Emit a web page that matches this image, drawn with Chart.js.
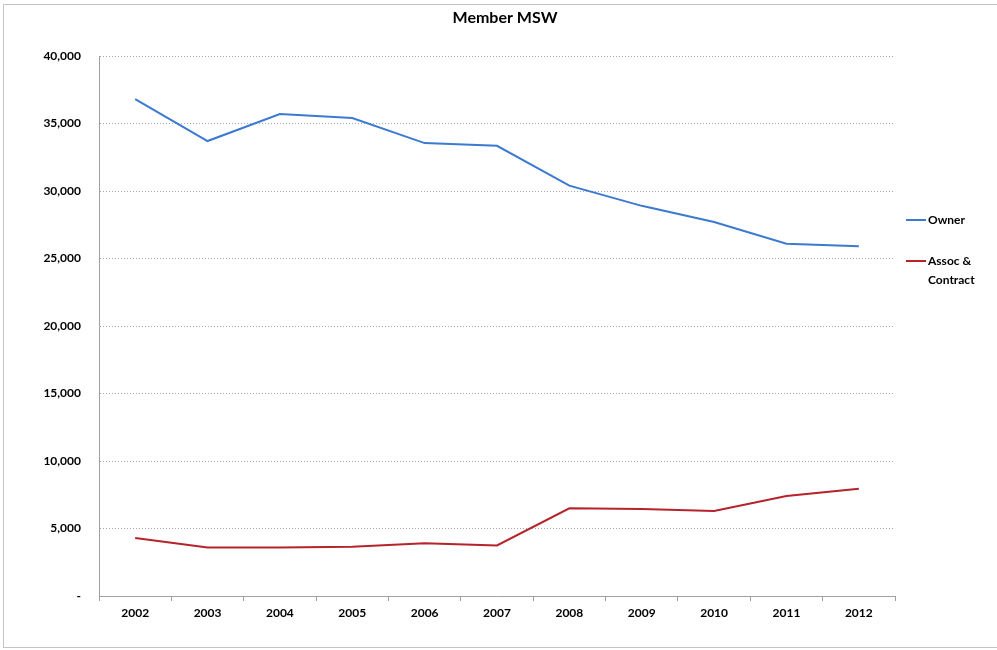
<!DOCTYPE html>
<html>
<head>
<meta charset="utf-8">
<title>Member MSW</title>
<script src="https://cdn.jsdelivr.net/npm/chart.js@4/dist/chart.umd.min.js"></script>
<style>
    html, body { margin: 0; padding: 0; background: #fff; }
    #wrap { width: 997px; height: 650px; position: relative; }
</style>
</head>
<body>
<div id="wrap"><canvas id="msw"></canvas></div>
<script>
const years = ['2002', '2003', '2004', '2005', '2006', '2007', '2008', '2009', '2010', '2011', '2012'];
const ownerCounts = [36800, 33700, 35700, 35400, 33550, 33350, 30400, 28900, 27700, 26100, 25900];
const assocCounts = [4300, 3600, 3600, 3650, 3900, 3750, 6500, 6450, 6300, 7400, 7950];
const seriesNames = [['Owner'], ['Assoc &', 'Contract']];
const yTicks = [0, 5000, 10000, 15000, 20000, 25000, 30000, 35000, 40000];

const FONT = 'Lato, "Open Sans", sans-serif';

// title, frame and the right-hand legend are painted by hand
const extras = {
    id: 'extras',
    beforeDraw(chart) {
        const c = chart.ctx;
        c.save();
        c.strokeStyle = '#c4c4c4';
        c.lineWidth = 1;
        c.strokeRect(3.5, 4.5, 1000, 643);
        c.restore();
    },
    afterDraw(chart) {
        const c = chart.ctx;
        c.save();
        c.fillStyle = '#000';
        c.font = 'bold 16px ' + FONT;
        c.textAlign = 'center';
        c.textBaseline = 'middle';
        c.fillText('Member MSW', 505, 18);

        const rows = [220, 261];
        c.font = 'bold 12px ' + FONT;
        c.textAlign = 'left';
        chart.data.datasets.forEach((ds, i) => {
            const y = rows[i];
            c.strokeStyle = ds.borderColor;
            c.lineWidth = 2;
            c.beginPath();
            c.moveTo(906, y);
            c.lineTo(926, y);
            c.stroke();
            seriesNames[i].forEach((line, j) => {
                c.fillText(line, 928, y + j * 19);
            });
        });
        c.restore();
    }
};

new Chart(document.getElementById('msw'), {
    type: 'line',
    data: {
        labels: years,
        datasets: [
            { label: 'Owner', data: ownerCounts, borderColor: '#3b7ad0', borderWidth: 2, pointRadius: 0, tension: 0 },
            { label: 'Assoc & Contract', data: assocCounts, borderColor: '#b5232b', borderWidth: 2, pointRadius: 0, tension: 0 }
        ]
    },
    options: {
        responsive: true,
        maintainAspectRatio: false,
        animation: false,
        layout: { padding: { top: 56, right: 102, bottom: 0, left: 0 } },
        plugins: {
            legend: { display: false },
            title: { display: false },
            tooltip: { enabled: false }
        },
        scales: {
            x: {
                offset: true,
                afterFit: s => { s.height = 54; },
                border: { color: '#a0a0a0', width: 1 },
                grid: { offset: true, drawOnChartArea: false, drawTicks: true, tickLength: 5, color: '#a0a0a0' },
                ticks: { color: '#000', padding: 5, font: { family: FONT, size: 12, weight: 'bold' } }
            },
            y: {
                min: 0,
                max: 40000,
                afterFit: s => { s.width = 99; },
                afterBuildTicks: s => { s.ticks = yTicks.map(v => ({ value: v })); },
                border: { color: '#a0a0a0', width: 1, dash: [1, 2] },
                grid: { color: '#a8a8a8', drawTicks: false },
                ticks: {
                    color: '#000',
                    padding: 18,
                    font: { family: FONT, size: 12, weight: 'bold' },
                    callback: v => v === 0 ? '-' : v.toLocaleString('en-US')
                }
            }
        }
    },
    plugins: [extras]
});
</script>
</body>
</html>
